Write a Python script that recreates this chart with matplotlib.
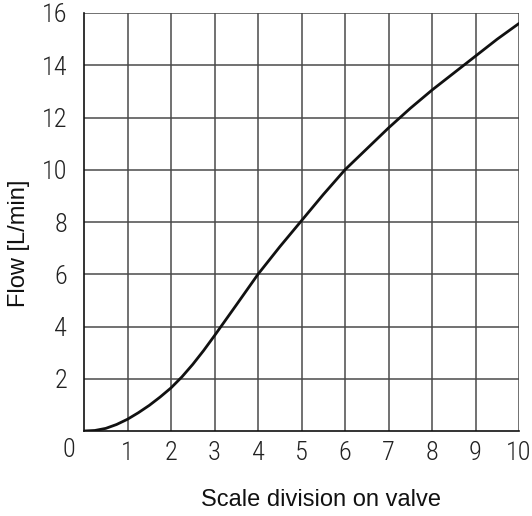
import numpy as np
import matplotlib
matplotlib.use('Agg')
from matplotlib import pyplot as plt

# curve
scale_div = [0, 0.25, 0.5, 0.75, 1, 1.25, 1.5, 1.75, 2, 2.25, 2.5, 2.75, 3, 3.5, 4, 4.5, 5, 5.5, 6, 6.5, 7, 7.5, 8, 8.5, 9, 9.5, 10]
flow = [0, 0.02, 0.1, 0.25, 0.45, 0.7, 0.98, 1.3, 1.65, 2.07, 2.55, 3.08, 3.65, 4.82, 6.0, 7.05, 8.05, 9.05, 10.0, 10.8, 11.6, 12.35, 13.05, 13.7, 14.35, 15.0, 15.6]

x_ticks = [1, 2, 3, 4, 5, 6, 7, 8, 9, 10]
y_ticks = [2, 4, 6, 8, 10, 12, 14, 16]

tick_font = ['Roboto Condensed', 'DejaVu Sans']
label_font = ['Liberation Sans', 'DejaVu Sans']
tick_kw = dict(family=tick_font, fontsize=19, fontweight='light', color='#222222')

fig = plt.figure(figsize=(5.32, 5.16), dpi=100)
ax = fig.add_axes([84/532, 1 - 431/516, 435/532, 418/516])

for xv in x_ticks:
    ax.axvline(xv, color='#4a4a4a', lw=1.1, zorder=1)
for yv in y_ticks:
    ax.axhline(yv, color='#4a4a4a', lw=1.1, zorder=1)

ax.plot(scale_div, flow, color='#111111', lw=2.0, zorder=3, solid_capstyle='round', solid_joinstyle='round')

ax.set_xlim(0, 10)
ax.set_ylim(0, 16)
for s in ['top', 'right']:
    ax.spines[s].set_visible(False)
for s in ['left', 'bottom']:
    ax.spines[s].set_color('#111111')
    ax.spines[s].set_linewidth(1.2)

ax.set_xticks(x_ticks)
ax.set_yticks(y_ticks)
ax.set_xticklabels([str(v) for v in x_ticks], **tick_kw)
ax.set_yticklabels([str(v) for v in y_ticks], **tick_kw)
ax.tick_params(length=0)
ax.tick_params(axis='x', pad=7)
ax.tick_params(axis='y', pad=12)
ax.text(-0.35, -0.72, '0', ha='center', va='center', **tick_kw)

fig.text(321/532, 1 - 506.5/516, 'Scale division on valve', family=label_font, fontsize=17,
         ha='center', va='baseline', color='#111111')
fig.text(19/532, 1 - 243/516, 'Flow [L/min]', family=label_font, fontsize=17,
         ha='center', va='center', rotation=90, color='#111111')

fig.savefig('out.png', dpi=100)
